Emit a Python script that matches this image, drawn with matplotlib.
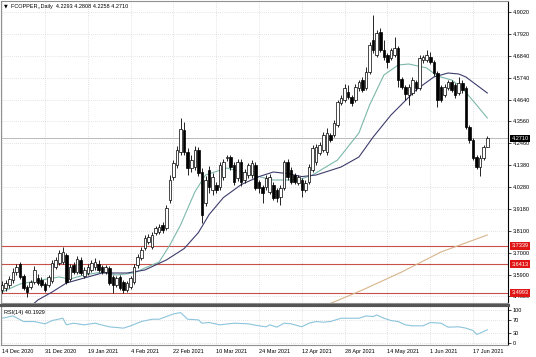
import numpy as np
import matplotlib.pyplot as plt
from matplotlib.lines import Line2D
from matplotlib.transforms import blended_transform_factory

plt.rcParams['font.family'] = ['Liberation Sans', 'DejaVu Sans']

# daily candles (bar 0 = 14 Dec 2020)
opens = [3.513, 3.523, 3.538, 3.563, 3.603, 3.643, 3.583, 3.528, 3.528, 3.553,
         3.573, 3.563, 3.543, 3.538, 3.558, 3.628, 3.648, 3.653, 3.688, 3.568,
         3.638, 3.603, 3.663, 3.583, 3.598, 3.613, 3.628, 3.643, 3.628, 3.603,
         3.623, 3.578, 3.538, 3.578, 3.553, 3.513, 3.528, 3.553, 3.638, 3.673,
         3.723, 3.753, 3.728, 3.798, 3.803, 3.838, 3.823, 3.963, 4.078, 4.138,
         4.203, 4.313, 4.203, 4.123, 4.128, 4.213, 4.103, 3.948, 4.113, 4.013,
         4.038, 4.028, 4.078, 4.173, 4.178, 4.138, 4.073, 4.153, 4.063, 4.088,
         4.088, 4.138, 4.053, 4.028, 4.028, 4.003, 4.038, 4.013, 3.978, 4.023,
         4.153, 4.113, 4.088, 4.048, 4.063, 4.013, 4.053, 4.113, 4.153, 4.198,
         4.213, 4.203, 4.288, 4.288, 4.338, 4.448, 4.463, 4.503, 4.478, 4.463,
         4.523, 4.563, 4.523, 4.603, 4.763, 4.688, 4.803, 4.713, 4.688, 4.673,
         4.688, 4.723, 4.568, 4.528, 4.488, 4.498, 4.553, 4.523, 4.663, 4.663,
         4.678, 4.653, 4.598, 4.528, 4.488, 4.523, 4.553, 4.538, 4.498, 4.548,
         4.523, 4.328, 4.263, 4.178, 4.128, 4.173, 4.2293]
closes = [3.538, 3.548, 3.568, 3.603, 3.628, 3.578, 3.523, 3.503, 3.553, 3.613,
          3.548, 3.538, 3.513, 3.578, 3.648, 3.663, 3.698, 3.703, 3.553, 3.628,
          3.603, 3.668, 3.598, 3.613, 3.628, 3.648, 3.653, 3.613, 3.603, 3.628,
          3.548, 3.538, 3.573, 3.523, 3.513, 3.548, 3.573, 3.628, 3.678, 3.713,
          3.773, 3.778, 3.788, 3.823, 3.828, 3.813, 3.923, 4.063, 4.148, 4.213,
          4.318, 4.203, 4.123, 4.163, 4.213, 4.098, 3.888, 4.063, 4.028, 4.078,
          4.013, 4.138, 4.153, 4.178, 4.128, 4.053, 4.153, 4.053, 4.103, 4.138,
          4.148, 4.023, 4.023, 3.998, 4.073, 4.078, 3.973, 3.973, 4.023, 4.153,
          4.078, 4.053, 4.053, 4.078, 4.013, 4.048, 4.128, 4.223, 4.228, 4.238,
          4.288, 4.298, 4.263, 4.348, 4.453, 4.473, 4.523, 4.478, 4.448, 4.528,
          4.553, 4.513, 4.603, 4.738, 4.713, 4.798, 4.713, 4.678, 4.653, 4.713,
          4.723, 4.563, 4.528, 4.493, 4.528, 4.563, 4.523, 4.673, 4.678, 4.688,
          4.653, 4.598, 4.463, 4.463, 4.528, 4.553, 4.513, 4.488, 4.548, 4.513,
          4.328, 4.263, 4.173, 4.128, 4.173, 4.228, 4.2710]
highs = [3.558, 3.563, 3.583, 3.623, 3.643, 3.653, 3.593, 3.538, 3.563, 3.633,
         3.593, 3.578, 3.553, 3.588, 3.663, 3.678, 3.713, 3.728, 3.698, 3.643,
         3.653, 3.683, 3.678, 3.628, 3.643, 3.663, 3.673, 3.663, 3.638, 3.638,
         3.633, 3.588, 3.583, 3.588, 3.563, 3.558, 3.583, 3.643, 3.693, 3.728,
         3.788, 3.793, 3.803, 3.833, 3.843, 3.853, 3.938, 4.088, 4.163, 4.233,
         4.373, 4.353, 4.223, 4.188, 4.233, 4.228, 4.123, 4.083, 4.133, 4.098,
         4.053, 4.153, 4.168, 4.188, 4.188, 4.153, 4.168, 4.168, 4.118, 4.148,
         4.163, 4.153, 4.063, 4.038, 4.088, 4.093, 4.053, 4.023, 4.038, 4.163,
         4.168, 4.128, 4.098, 4.088, 4.073, 4.063, 4.143, 4.238, 4.243, 4.253,
         4.303, 4.323, 4.298, 4.363, 4.463, 4.488, 4.543, 4.538, 4.488, 4.543,
         4.563, 4.578, 4.628, 4.753, 4.888, 4.813, 4.823, 4.763, 4.698, 4.723,
         4.778, 4.733, 4.578, 4.538, 4.543, 4.578, 4.563, 4.688, 4.688, 4.713,
         4.703, 4.663, 4.608, 4.538, 4.543, 4.563, 4.563, 4.548, 4.578, 4.563,
         4.533, 4.338, 4.273, 4.188, 4.188, 4.238, 4.2808]
lows = [3.498, 3.508, 3.523, 3.548, 3.588, 3.568, 3.513, 3.478, 3.518, 3.543,
        3.538, 3.528, 3.503, 3.528, 3.548, 3.618, 3.638, 3.643, 3.543, 3.558,
        3.593, 3.593, 3.588, 3.573, 3.588, 3.603, 3.613, 3.603, 3.593, 3.593,
        3.538, 3.498, 3.528, 3.513, 3.498, 3.503, 3.518, 3.543, 3.623, 3.663,
        3.713, 3.743, 3.718, 3.788, 3.793, 3.798, 3.813, 3.948, 4.063, 4.123,
        4.188, 4.188, 4.088, 4.103, 4.113, 4.083, 3.848, 3.933, 3.998, 3.988,
        3.998, 4.013, 4.063, 4.158, 4.113, 4.038, 4.058, 4.033, 4.048, 4.073,
        4.073, 4.013, 3.998, 3.948, 4.013, 3.993, 3.963, 3.953, 3.938, 4.013,
        4.063, 4.043, 4.043, 4.038, 3.978, 4.003, 4.043, 4.103, 4.138, 4.188,
        4.203, 4.188, 4.253, 4.278, 4.328, 4.438, 4.453, 4.468, 4.433, 4.453,
        4.508, 4.503, 4.513, 4.593, 4.698, 4.678, 4.703, 4.663, 4.623, 4.663,
        4.678, 4.528, 4.518, 4.463, 4.438, 4.488, 4.508, 4.513, 4.648, 4.653,
        4.643, 4.583, 4.428, 4.453, 4.478, 4.513, 4.503, 4.473, 4.488, 4.498,
        4.318, 4.248, 4.163, 4.118, 4.083, 4.163, 4.2258]

date_labels = ["14 Dec 2020", "31 Dec 2020", "19 Jan 2021", "4 Feb 2021",
               "22 Feb 2021", "10 Mar 2021", "24 Mar 2021", "12 Apr 2021",
               "28 Apr 2021", "14 May 2021", "1 Jun 2021", "17 Jun 2021"]
date_step = 12

price_ticks = [4.9020, 4.7920, 4.6840, 4.5740, 4.4640, 4.3560, 4.2460,
               4.1380, 4.0280, 3.9180, 3.8100, 3.7000, 3.5900, 3.4820]
levels = [3.7339, 3.6413, 3.4993]
last_price = 4.2710

# moving averages read at sample bars
fast_bars = [0, 5, 11, 16, 19, 23, 28, 32, 37, 40, 44, 47, 50, 54, 57, 63,
             70, 76, 83, 87, 94, 100, 103, 107, 111, 114, 119, 122, 126, 129,
             131, 133, 136]
fast_vals = [3.503, 3.543, 3.563, 3.578, 3.568, 3.588, 3.603, 3.588, 3.598,
             3.623, 3.653, 3.738, 3.838, 4.003, 4.088, 4.123, 4.088, 4.063,
             4.063, 4.088, 4.163, 4.298, 4.438, 4.588, 4.638, 4.643, 4.623,
             4.583, 4.563, 4.523, 4.480, 4.438, 4.373]
slow_bars = [6, 10, 14, 18, 24, 28, 35, 40, 46, 51, 55, 58, 62, 67, 72, 76, 80,
             84, 88, 95, 100, 104, 109, 116, 121, 125, 128, 130, 133, 136]
slow_vals = [3.40, 3.463, 3.503, 3.548, 3.578, 3.598, 3.598, 3.613, 3.663,
             3.72, 3.80, 3.89, 3.975, 4.04, 4.08, 4.103, 4.095, 4.08, 4.088,
             4.128, 4.178, 4.278, 4.388, 4.513, 4.578, 4.598, 4.593, 4.578,
             4.538, 4.498]
long_bars = [88, 91, 101, 112, 123, 136]
long_vals = [3.416, 3.438, 3.513, 3.603, 3.703, 3.788]

rsi_bars = [0, 3, 6, 9, 12, 14, 17, 18, 20, 23, 26, 30, 31, 34, 36, 39, 42, 44,
            48, 50, 52, 55, 56, 58, 61, 65, 69, 72, 74, 75, 77, 79, 81, 84, 86,
            88, 90, 92, 95, 97, 100, 102, 104, 105, 107, 109, 111, 113, 115,
            118, 120, 123, 125, 128, 130, 132, 133, 134, 135, 136]
rsi_vals = [75, 82, 65, 65, 58, 68, 75, 55, 60, 55, 60, 49, 48, 45, 52, 65, 72,
            72, 88, 92, 72, 70, 60, 62, 55, 60, 58, 52, 49, 55, 48, 60, 58, 49,
            60, 65, 63, 65, 75, 75, 75, 82, 80, 85, 75, 68, 65, 55, 52, 52, 62,
            60, 48, 49, 45, 38, 26, 30, 35, 40.1929]

W, H = 536, 357
fig = plt.figure(figsize=(W / 100, H / 100), dpi=100, facecolor='white')


def px_axes(left, top, right, bottom):
    return fig.add_axes([left / W, 1 - bottom / H, (right - left) / W, (bottom - top) / H])


ax = px_axes(0.5, 1, 508, 303)
ax2 = px_axes(0.5, 306, 508, 345)

o = np.array(opens)
c = np.array(closes)
x = np.arange(len(o))
up = c >= o
body_lo = np.minimum(o, c)
body_h = np.maximum(np.abs(c - o), 0.002)

ax.vlines(x, lows, highs, color='black', lw=0.6, zorder=3)
ax.bar(x, body_h, bottom=body_lo, width=0.72,
       color=np.where(up, 'white', 'black'), edgecolor='black', linewidth=0.5, zorder=4)

ax.plot(fast_bars, fast_vals, color='#7cb8aa', lw=0.8, zorder=2)
ax.plot(slow_bars, slow_vals, color='#3c3c6c', lw=0.8, zorder=2)
ax.plot(long_bars, long_vals, color='#d8b48a', lw=0.8, zorder=2)

for lv in levels:
    ax.axhline(lv, color='#c8504a', lw=0.8, zorder=1)
ax.axhline(last_price, color='#b0b0b0', lw=0.6, zorder=1)

xlim = (-0.48, 141.8)
ticks = np.arange(len(date_labels)) * date_step
for a in (ax, ax2):
    a.set_xlim(*xlim)
    a.set_xticks(ticks)
    a.grid(True, color='#c8c8c8', linestyle=(0, (1, 2)), linewidth=0.5)
    a.set_axisbelow(True)
    a.yaxis.tick_right()
    a.tick_params(axis='y', labelsize=4, length=2, width=0.5, pad=1.2, colors='black')
    for s in ('left', 'top', 'bottom'):
        a.spines[s].set_color('#909090')
        a.spines[s].set_linewidth(0.8)
    a.spines['right'].set_color('black')
    a.spines['right'].set_linewidth(0.8)

ax.set_ylim(3.448, 4.958)
ax.set_yticks(price_ticks)
ax.set_yticklabels([f'{p:.4f}' for p in price_ticks])
ax.tick_params(axis='x', length=0, labelbottom=False)

ax2.set_ylim(-6, 112)
ax2.set_yticks([100, 70, 30, 0])
ax2.set_yticklabels(['100', '70', '30', '0'])
ax2.plot(rsi_bars, rsi_vals, color='#8cc4dc', lw=0.8)
ax2.set_xticklabels(date_labels, ha='left')
ax2.tick_params(axis='x', labelsize=4, length=0, pad=3)

# separator between price and RSI panes
fig.add_artist(Line2D([0, 508 / W], [1 - 304.5 / H] * 2, color='#555555', lw=2.2))

tr = blended_transform_factory(ax.transAxes, ax.transData)
for lv in levels:
    ax.text(1.007, lv, f'{lv:.4f}', transform=tr, fontsize=4, color='white',
            va='center', ha='left', clip_on=False, zorder=10,
            bbox=dict(boxstyle='square,pad=0.25', fc='#e01515', ec='none'))
ax.text(1.007, last_price, f'{last_price:.4f}', transform=tr, fontsize=4,
        color='white', va='center', ha='left', clip_on=False, zorder=10,
        bbox=dict(boxstyle='square,pad=0.25', fc='black', ec='none'))

ax.text(0.006, 0.983, '\u25bc', transform=ax.transAxes, fontsize=3.5,
        va='center', ha='left', family='DejaVu Sans')
ax.text(0.02, 0.983, 'FCOPPER,,Daily  4.2293 4.2808 4.2258 4.2710',
        transform=ax.transAxes, fontsize=4, va='center', ha='left')
ax2.text(0.006, 0.84, 'RSI(14) 40.1929', transform=ax2.transAxes, fontsize=4,
         va='center', ha='left')

fig.savefig('out.png', dpi=100, facecolor='white')
